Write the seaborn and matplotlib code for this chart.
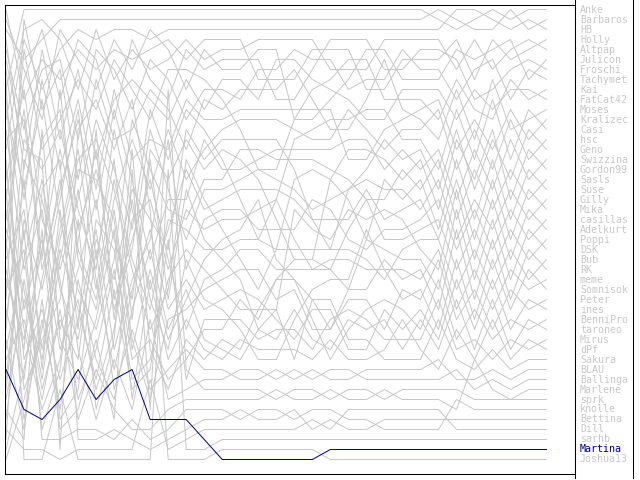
import matplotlib
matplotlib.use("Agg")
import matplotlib.pyplot as plt
import matplotlib.transforms as mtransforms
import pandas as pd
import seaborn as sns

# players in final order (last round)
names = ["Anke", "Barbaros", "HB", "Holly", "Altpap", "Julicon", "Froschi",
         "Tachymet", "Kai", "FatCat42", "Moses", "Kralizec", "Casi", "hsc",
         "Geno", "Swizzina", "Gordon99", "Sasls", "Suse", "Gilly", "Mika",
         "casillas", "Adelkurt", "Poppi", "DSK", "Bub", "RK", "meme",
         "Somnisok", "Peter", "ines", "BenniPro", "taroneo", "Mirus", "dPf",
         "Sakura", "BLAU", "Ballinga", "Marlene", "sprk", "knolle", "Bettina",
         "Dill", "sarhb", "Martina", "Joshua13"]
highlight = "Martina"
rounds = list(range(1, 32))

# rank per player, rounds 1-11
ranks_early = [
    [9, 1, 1, 1, 1, 1, 1, 1, 1, 1, 1],
    [3, 6, 4, 2, 2, 2, 2, 2, 2, 2, 2],
    [15, 4, 9, 5, 3, 4, 3, 3, 4, 3, 3],
    [1, 10, 6, 8, 5, 7, 5, 6, 5, 4, 6],
    [12, 3, 2, 4, 9, 3, 8, 5, 7, 6, 4],
    [2, 7, 12, 3, 6, 9, 4, 7, 3, 5, 9],
    [20, 8, 3, 10, 4, 6, 12, 4, 8, 10, 5],
    [5, 13, 7, 6, 14, 5, 7, 11, 6, 8, 12],
    [25, 5, 15, 12, 8, 11, 6, 9, 12, 7, 7],
    [4, 17, 5, 14, 7, 16, 10, 8, 10, 12, 8],
    [30, 2, 11, 7, 18, 8, 14, 13, 9, 11, 15],
    [7, 20, 8, 17, 10, 19, 9, 16, 14, 15, 10],
    [18, 9, 22, 27, 20, 12, 17, 23, 11, 16, 11],
    [10, 24, 14, 11, 25, 30, 20, 14, 19, 13, 18],
    [35, 26, 18, 29, 34, 24, 28, 19, 22, 25, 13],
    [14, 12, 27, 19, 12, 21, 11, 18, 26, 20, 20],
    [28, 34, 25, 15, 23, 17, 24, 30, 15, 18, 14],
    [11, 19, 10, 22, 29, 33, 26, 12, 17, 21, 22],
    [40, 30, 36, 24, 16, 14, 19, 27, 33, 29, 16],
    [13, 27, 21, 33, 27, 20, 31, 25, 13, 19, 24],
    [33, 14, 17, 13, 21, 27, 13, 21, 29, 23, 17],
    [16, 36, 31, 38, 32, 23, 35, 28, 24, 14, 27],
    [38, 22, 29, 20, 11, 26, 16, 32, 16, 30, 19],
    [17, 31, 24, 35, 30, 39, 33, 22, 20, 27, 21],
    [42, 28, 38, 26, 17, 18, 22, 35, 27, 34, 30],
    [19, 39, 34, 30, 19, 29, 18, 26, 31, 22, 23],
    [44, 16, 20, 28, 40, 35, 27, 38, 36, 28, 25],
    [21, 33, 41, 36, 24, 15, 30, 24, 18, 26, 33],
    [45, 37, 28, 18, 33, 13, 32, 20, 30, 35, 26],
    [22, 11, 26, 9, 26, 31, 21, 34, 40, 32, 31],
    [46, 40, 33, 23, 15, 28, 37, 29, 23, 31, 28],
    [23, 29, 39, 32, 36, 22, 25, 36, 34, 38, 36],
    [24, 42, 32, 41, 28, 36, 40, 31, 25, 33, 29],
    [26, 21, 35, 25, 31, 38, 29, 39, 37, 24, 38],
    [27, 35, 13, 34, 38, 32, 23, 40, 28, 36, 32],
    [29, 25, 43, 37, 22, 41, 34, 15, 35, 39, 34],
    [31, 38, 23, 42, 39, 25, 39, 33, 39, 37, 35],
    [32, 18, 37, 21, 35, 42, 36, 41, 32, 40, 39],
    [34, 43, 30, 43, 41, 34, 42, 17, 41, 9, 37],
    [36, 32, 40, 31, 42, 37, 41, 43, 43, 41, 40],
    [39, 23, 44, 44, 43, 43, 44, 42, 44, 43, 41],
    [41, 44, 19, 16, 44, 44, 43, 44, 45, 44, 43],
    [43, 45, 45, 46, 45, 45, 45, 45, 38, 45, 44],
    [8, 46, 46, 39, 46, 46, 46, 46, 46, 17, 45],
    [37, 41, 42, 40, 37, 40, 38, 37, 42, 42, 42],
    [6, 15, 16, 45, 13, 10, 15, 10, 21, 46, 46],
]

# rounds 12-24
ranks_mid = [
    [1, 1, 1, 1, 1, 1, 1, 1, 1, 1, 1, 1, 1],
    [2, 2, 2, 2, 2, 2, 2, 2, 2, 2, 2, 2, 2],
    [3, 3, 3, 3, 3, 3, 3, 3, 3, 3, 3, 3, 3],
    [4, 4, 4, 8, 8, 8, 5, 5, 5, 9, 9, 6, 6],
    [6, 5, 5, 4, 4, 4, 4, 7, 7, 7, 4, 4, 4],
    [5, 7, 7, 5, 5, 12, 12, 10, 8, 5, 5, 8, 8],
    [7, 6, 6, 6, 10, 10, 7, 4, 4, 4, 7, 7, 5],
    [9, 9, 10, 7, 7, 5, 6, 6, 9, 8, 8, 5, 7],
    [8, 10, 13, 17, 17, 12, 9, 8, 6, 6, 10, 10, 10],
    [11, 8, 8, 10, 6, 6, 8, 9, 10, 12, 12, 9, 9],
    [10, 11, 9, 9, 9, 7, 10, 13, 13, 10, 6, 11, 12],
    [12, 12, 11, 11, 11, 11, 11, 11, 16, 16, 13, 12, 11],
    [13, 16, 20, 24, 20, 14, 13, 12, 12, 11, 11, 14, 14],
    [15, 13, 12, 12, 12, 13, 14, 14, 11, 13, 15, 13, 13],
    [16, 14, 14, 14, 14, 17, 22, 25, 19, 17, 14, 16, 15],
    [14, 17, 17, 16, 15, 15, 15, 15, 14, 14, 17, 15, 17],
    [17, 15, 16, 18, 22, 26, 26, 18, 15, 15, 16, 18, 16],
    [18, 18, 15, 15, 16, 16, 16, 17, 18, 20, 20, 17, 19],
    [20, 23, 26, 29, 25, 18, 17, 18, 20, 24, 18, 20, 18],
    [19, 19, 18, 17, 18, 19, 21, 20, 19, 18, 19, 19, 21],
    [21, 20, 19, 19, 19, 20, 22, 22, 22, 19, 22, 21, 20],
    [22, 21, 21, 23, 23, 23, 20, 21, 24, 25, 23, 23, 22],
    [24, 26, 28, 33, 31, 21, 23, 24, 21, 22, 21, 22, 25],
    [23, 22, 22, 21, 20, 24, 27, 27, 23, 20, 24, 24, 23],
    [26, 24, 23, 20, 26, 28, 30, 33, 29, 24, 25, 26, 26],
    [25, 25, 24, 24, 25, 25, 25, 25, 25, 26, 28, 25, 24],
    [27, 29, 31, 31, 28, 26, 26, 27, 29, 29, 26, 28, 27],
    [28, 27, 25, 25, 27, 27, 27, 26, 26, 27, 27, 27, 28],
    [30, 31, 33, 36, 36, 32, 29, 28, 28, 23, 27, 30, 29],
    [29, 28, 27, 27, 30, 29, 33, 33, 30, 30, 33, 29, 30],
    [31, 30, 29, 30, 32, 34, 31, 31, 35, 35, 31, 33, 31],
    [33, 33, 30, 32, 28, 28, 32, 36, 33, 31, 30, 31, 33],
    [34, 35, 36, 33, 34, 31, 34, 35, 32, 33, 32, 35, 32],
    [32, 32, 32, 34, 33, 33, 35, 32, 31, 32, 34, 34, 34],
    [35, 36, 34, 35, 35, 35, 36, 34, 36, 36, 35, 32, 35],
    [36, 34, 35, 31, 31, 36, 30, 30, 34, 34, 36, 36, 36],
    [37, 37, 38, 38, 37, 38, 37, 38, 38, 37, 37, 37, 37],
    [38, 38, 37, 37, 38, 37, 38, 37, 37, 38, 38, 38, 38],
    [39, 39, 39, 39, 40, 39, 39, 40, 39, 39, 40, 39, 39],
    [40, 40, 40, 40, 39, 40, 40, 39, 40, 40, 39, 40, 40],
    [41, 41, 42, 41, 41, 42, 41, 41, 42, 42, 43, 43, 43],
    [42, 42, 41, 42, 42, 41, 43, 42, 43, 43, 42, 42, 42],
    [43, 43, 43, 43, 43, 43, 42, 43, 41, 41, 41, 41, 41],
    [45, 44, 44, 44, 44, 44, 44, 44, 44, 44, 44, 44, 44],
    [44, 46, 46, 46, 46, 46, 46, 45, 45, 45, 45, 45, 45],
    [46, 45, 45, 45, 45, 45, 45, 46, 46, 46, 46, 46, 46],
]

# rounds 25-31
ranks_late = [
    [2, 3, 2, 1, 2, 1, 1],
    [1, 2, 3, 3, 1, 3, 2],
    [3, 1, 1, 2, 3, 2, 3],
    [6, 4, 8, 4, 6, 5, 4],
    [4, 7, 4, 7, 5, 4, 5],
    [8, 5, 6, 5, 4, 8, 6],
    [5, 6, 10, 9, 7, 6, 7],
    [7, 10, 7, 6, 10, 7, 8],
    [12, 8, 11, 12, 8, 10, 9],
    [9, 12, 9, 11, 9, 9, 10],
    [14, 9, 14, 8, 13, 12, 11],
    [10, 15, 12, 15, 11, 14, 12],
    [17, 11, 16, 10, 16, 11, 13],
    [11, 17, 13, 17, 12, 16, 14],
    [19, 13, 19, 14, 18, 13, 15],
    [15, 20, 15, 19, 14, 18, 16],
    [21, 14, 18, 13, 20, 15, 17],
    [16, 22, 17, 21, 17, 20, 18],
    [23, 16, 22, 16, 22, 17, 19],
    [18, 24, 20, 23, 19, 22, 20],
    [24, 18, 24, 18, 24, 19, 21],
    [20, 25, 21, 25, 21, 24, 22],
    [27, 19, 26, 20, 26, 21, 23],
    [22, 27, 23, 27, 23, 26, 24],
    [29, 21, 28, 22, 28, 23, 25],
    [24, 29, 25, 29, 25, 28, 26],
    [31, 23, 30, 24, 30, 25, 27],
    [25, 31, 27, 31, 27, 29, 28],
    [33, 26, 32, 26, 31, 27, 29],
    [26, 32, 29, 33, 29, 31, 30],
    [34, 28, 33, 28, 33, 30, 31],
    [28, 34, 31, 34, 32, 33, 32],
    [35, 30, 35, 30, 35, 32, 33],
    [30, 35, 34, 36, 34, 35, 34],
    [37, 33, 36, 32, 36, 34, 35],
    [32, 36, 37, 35, 37, 36, 36],
    [36, 38, 38, 37, 38, 37, 37],
    [38, 37, 39, 38, 39, 38, 38],
    [39, 39, 40, 40, 40, 39, 39],
    [40, 41, 36, 39, 40, 40, 40],
    [43, 40, 41, 41, 41, 41, 41],
    [42, 42, 42, 42, 42, 42, 42],
    [41, 43, 43, 43, 43, 43, 43],
    [44, 44, 44, 44, 44, 44, 44],
    [45, 45, 45, 45, 45, 45, 45],
    [46, 46, 46, 46, 46, 46, 46],
]

rows = []
for i, name in enumerate(names):
    vals = ranks_early[i] + ranks_mid[i] + ranks_late[i]
    for r, v in zip(rounds, vals):
        rows.append({"Runde": r, "Platz": v, "Name": name})
df = pd.DataFrame(rows)

sns.set_style("white")
fig = plt.figure(figsize=(6.4, 4.8), dpi=100)
ax = fig.add_axes([5 / 640, 6 / 480, 570 / 640, 469 / 480])

palette = {n: ("#000080" if n == highlight else "#c8c8c8") for n in names}
order = [n for n in names if n != highlight] + [highlight]
sns.lineplot(data=df, x="Runde", y="Platz", hue="Name", hue_order=order,
             palette=palette, estimator=None, legend=False, linewidth=0.72,
             ax=ax)

step = 18.02
ax.set_xlim(1 - 1 / step, 1 + 569 / step)
# half-pixel offset so that flat runs land on pixel centres
ax.set_ylim(47.45, 0.55)
ax.set_xticks([])
ax.set_yticks([])
ax.set_xlabel("")
ax.set_ylabel("")
for s in ax.spines.values():
    s.set_color("black")
    s.set_linewidth(0.75)

# name panel on the right
side = fig.add_axes([575 / 640, 2 / 480, 58 / 640, 478 / 480])
side.set_xticks([])
side.set_yticks([])
for k, s in side.spines.items():
    s.set_color("black")
    s.set_linewidth(0.75)
    if k in ("top", "bottom"):
        s.set_visible(False)

trans = mtransforms.blended_transform_factory(fig.transFigure, ax.transData)
for i, name in enumerate(names):
    hl = name == highlight
    fig.text(580 / 640, i + 1, name, transform=trans, va="center", ha="left",
             family="DejaVu Sans Mono", fontsize=7.2,
             color="#000080" if hl else "#c8c8c8")

fig.savefig("out.png", dpi=100)
